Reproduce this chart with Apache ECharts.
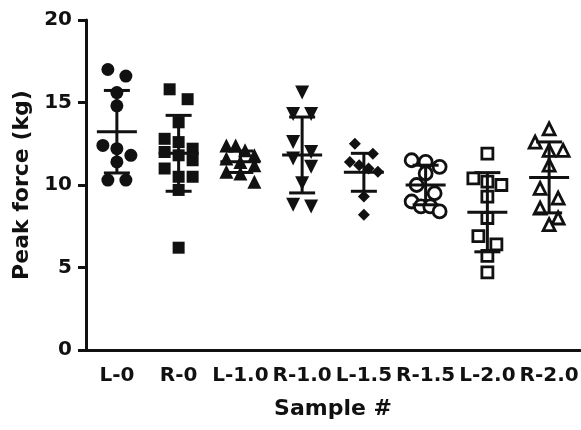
<!DOCTYPE html>
<html>
<head>
<meta charset="utf-8">
<script src="https://cdn.jsdelivr.net/npm/echarts@6/dist/echarts.min.js"></script>
<style>
    html, body { margin: 0; padding: 0; background: #fff; }
    #chart { width: 581px; height: 430px; }
</style>
</head>
<body>
<div id="chart"></div>
<script>
// data
const categories = ['L-0', 'R-0', 'L-1.0', 'R-1.0', 'L-1.5', 'R-1.5', 'L-2.0', 'R-2.0'];
const L0 = [17.0, 16.6, 15.6, 14.8, 12.4, 12.2, 11.8, 11.4, 10.3, 10.3];
const R0 = [15.8, 15.2, 13.8, 12.8, 12.6, 12.2, 12.0, 11.8, 11.5, 11.0, 10.5, 10.5, 9.7, 6.2];
const L10 = [12.4, 12.4, 12.1, 11.8, 11.6, 11.4, 11.2, 10.8, 10.7, 10.2];
const R10 = [15.6, 14.3, 14.3, 12.6, 12.0, 11.6, 11.1, 10.1, 8.8, 8.7];
const L15 = [12.5, 11.9, 11.4, 11.2, 11.0, 10.8, 9.3, 8.2];
const R15 = [11.5, 11.4, 11.1, 10.7, 10.0, 9.5, 9.0, 8.7, 8.7, 8.4];
const L20 = [11.9, 10.4, 10.2, 10.0, 9.3, 8.0, 6.9, 6.4, 5.7, 4.7];
const R20 = [13.4, 12.6, 12.1, 12.1, 11.2, 9.8, 9.2, 8.6, 8.0, 7.6];
const groups = [L0, R0, L10, R10, L15, R15, L20, R20];
const means = [13.23, 11.92, 11.41, 11.82, 10.77, 10.0, 8.35, 10.46];
const sds = [2.5, 2.3, 0.65, 2.3, 1.15, 1.2, 2.4, 2.15];
const yTicks = { min: 0, max: 20, interval: 5 };

// marker look per group
const markers = [
    { symbol: 'circle', size: 13, open: false },
    { symbol: 'rect', size: 12, open: false },
    { symbol: 'triangle', size: 14, open: false },
    { symbol: 'triangle', size: 14, open: false, rotate: 180 },
    { symbol: 'diamond', size: 12, open: false },
    { symbol: 'circle', size: 13, open: true },
    { symbol: 'rect', size: 11, open: true },
    { symbol: 'triangle', size: 12, open: true }
];

const font = 'DejaVu Sans';
const ink = '#111';

const chart = echarts.init(document.getElementById('chart'));

const scatterSeries = groups.map((vals, i) => {
    const m = markers[i];
    return {
        type: 'scatter',
        symbol: m.symbol,
        symbolSize: m.size,
        symbolRotate: m.rotate || 0,
        itemStyle: m.open
            ? { color: '#fff', borderColor: ink, borderWidth: 2.8, opacity: 1 }
            : { color: ink, opacity: 1 },
        emphasis: { disabled: true },
        z: 2,
        data: vals.map(v => [i, v])
    };
});

const barSeries = {
    type: 'custom',
    z: 5,
    silent: true,
    data: means.map((m, i) => [i, m, sds[i]]),
    renderItem: function (params, api) {
        const i = api.value(0), m = api.value(1), s = api.value(2);
        const c = api.coord([i, m]);
        const top = api.coord([i, m + s]);
        const bot = api.coord([i, m - s]);
        const st = { stroke: ink, lineWidth: 3 };
        return {
            type: 'group',
            children: [
                { type: 'line', shape: { x1: c[0], y1: top[1], x2: c[0], y2: bot[1] }, style: st },
                { type: 'line', shape: { x1: c[0] - 13, y1: top[1], x2: c[0] + 13, y2: top[1] }, style: st },
                { type: 'line', shape: { x1: c[0] - 13, y1: bot[1], x2: c[0] + 13, y2: bot[1] }, style: st },
                { type: 'line', shape: { x1: c[0] - 20, y1: c[1], x2: c[0] + 20, y2: c[1] }, style: st }
            ]
        };
    }
};

const option = {
    animation: false,
    backgroundColor: '#fff',
    grid: { left: 86, right: 1, top: 20, bottom: 80, outerBoundsMode: 'none' },
    xAxis: {
        type: 'category',
        data: categories,
        name: 'Sample #',
        nameLocation: 'middle',
        nameGap: 48,
        nameTextStyle: { fontFamily: font, fontWeight: 'bold', fontSize: 22, color: ink },
        axisLine: { lineStyle: { color: ink, width: 3 } },
        axisTick: { alignWithLabel: true, length: 8, lineStyle: { color: ink, width: 3 } },
        axisLabel: { interval: 0, margin: 16, fontFamily: font, fontWeight: 'bold', fontSize: 20, color: ink },
        splitLine: { show: false }
    },
    yAxis: {
        type: 'value',
        min: yTicks.min,
        max: yTicks.max,
        interval: yTicks.interval,
        name: 'Peak force (kg)',
        nameLocation: 'middle',
        nameGap: 52,
        nameTextStyle: { fontFamily: font, fontWeight: 'bold', fontSize: 22, color: ink },
        axisLine: { show: true, lineStyle: { color: ink, width: 3 } },
        axisTick: { show: true, length: 8, lineStyle: { color: ink, width: 3 } },
        axisLabel: { margin: 14, fontFamily: font, fontWeight: 'bold', fontSize: 20, color: ink },
        splitLine: { show: false }
    },
    series: scatterSeries.concat([barSeries])
};

chart.setOption(option);

// dot-plot spread: points that sit close in y form a row, each row centred on the category
function swarm(pys, size) {
    const order = pys.map((y, k) => k).sort((a, b) => pys[a] - pys[b]);
    const rows = [];
    order.forEach(k => {
        const row = rows[rows.length - 1];
        if (row && pys[k] - pys[row[0]] < size * 0.85) row.push(k);
        else rows.push([k]);
    });
    const offs = new Array(pys.length).fill(0);
    rows.forEach(row => {
        const n = row.length;
        const gap = n > 1 ? Math.min(18, 28 / (n - 1)) : 0;
        row.forEach((k, j) => { offs[k] = (j - (n - 1) / 2) * gap; });
    });
    return offs;
}

chart.setOption({
    series: groups.map((vals, i) => {
        const pys = vals.map(v => chart.convertToPixel({ gridIndex: 0 }, [i, v])[1]);
        const offs = swarm(pys, markers[i].size);
        return {
            data: vals.map((v, k) => ({ value: [i, v], symbolOffset: [offs[k], 0] }))
        };
    })
});
</script>
</body>
</html>
